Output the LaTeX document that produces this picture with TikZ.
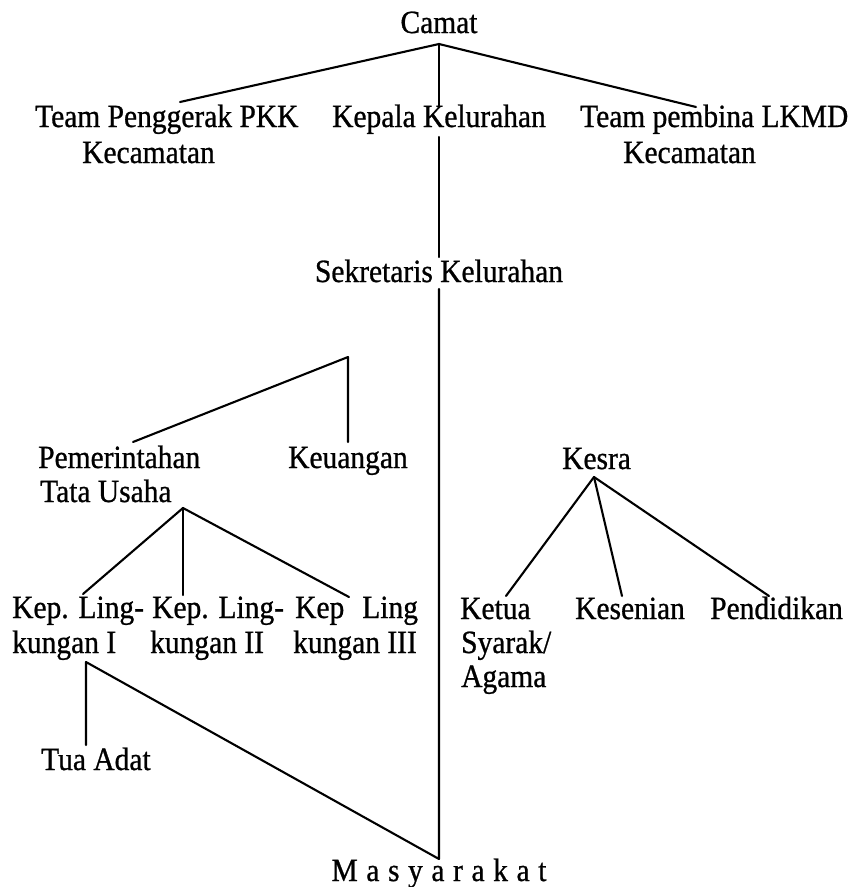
\documentclass[tikz,border=0pt]{standalone}
\usepackage{fontspec}
\setmainfont{Liberation Serif}[FakeStretch=0.91, FakeBold=0.8]
\begin{document}
\begin{tikzpicture}[x=1pt,y=-1pt,
  txt/.style={inner sep=0pt, font=\fontsize{32.4}{38}\selectfont},
  txtw/.style={txt, anchor=base west},
  txtc/.style={txt, anchor=base},
  conn/.style={line width=2.1pt, line cap=round, line join=round}]
\useasboundingbox (0,0) rectangle (853,887);
\fill[white] (0,0) rectangle (853,887);

% --- labels ---
\node[txtc] (camat)  at (439,33)  {Camat};
\node[txtw] (pkk)    at (35,127)  {Team Penggerak PKK};
\node[txtw] (pkk2)   at (82,163)  {Kecamatan};
\node[txtc] (kepala) at (439,127) {Kepala Kelurahan};
\node[txtw] (lkmd)   at (580,127) {Team pembina LKMD};
\node[txtw] (lkmd2)  at (623,163) {Kecamatan};
\node[txtc] (sekr)   at (439,282) {Sekretaris Kelurahan};
\node[txtw] (pem)    at (38,468)  {Pemerintahan};
\node[txtw] (pem2)   at (40,502)  {Tata Usaha};
\node[txtw] (keu)    at (288,468) {Keuangan};
\node[txtw] (kesra)  at (562,469) {Kesra};
\node[txtw] (ling1)  at (12,618)  {Kep. Ling-};
\node[txtw] (ling1b) at (12,653)  {kungan I};
\node[txtw] (ling2)  at (152,618) {Kep. Ling-};
\node[txtw] (ling2b) at (150,653) {kungan II};
\node[txtw] (ling3)  at (295,618) {Kep\hspace{18pt}Ling};
\node[txtw] (ling3b) at (293,653) {kungan III};
\node[txtw] (ketua)  at (460,619) {Ketua};
\node[txtw] (ketua2) at (461,653) {Syarak/};
\node[txtw] (ketua3) at (461,687) {Agama};
\node[txtw] (seni)   at (575,619) {Kesenian};
\node[txtw] (didik)  at (710,619) {Pendidikan};
\node[txtw] (tua)    at (41,770)  {Tua Adat};
\node[txtc] (masy)   at (439,881) {M\kern8.6pt a\kern8.6pt s\kern8.6pt y\kern8.6pt a\kern8.6pt r\kern8.6pt a\kern8.6pt k\kern8.6pt a\kern8.6pt t};

% --- connector points ---
\coordinate (cJ)    at (439,44);
\coordinate (pkkT)  at (180,102);
\coordinate (lkmdT) at (696,107);
\coordinate (kepT)  at (439,107);
\coordinate (kepB)  at (439,137);
\coordinate (sekT)  at (439,257);
\coordinate (sekB)  at (439,289);
\coordinate (masT)  at (439,859);
\coordinate (l1B)   at (86,662);
\coordinate (tuaT)  at (86,745);
\coordinate (pkJ)   at (348,357);
\coordinate (pemT)  at (133,442);
\coordinate (keuT)  at (348,442);
\coordinate (tuJ)   at (183,508);
\coordinate (l1T)   at (83,594);
\coordinate (l2T)   at (183,595);
\coordinate (l3T)   at (349,597);
\coordinate (ksJ)   at (594,477);
\coordinate (ktT)   at (506,596);
\coordinate (snT)   at (622,596);
\coordinate (pdT)   at (769,596);

% --- connectors ---
\draw[conn] (pkkT) -- (cJ) -- (lkmdT);
\draw[conn] (cJ) -- (kepT);
\draw[conn] (kepB) -- (sekT);
\draw[conn] (sekB) -- (masT) -- (l1B) -- (tuaT);
\draw[conn] (pemT) -- (pkJ) -- (keuT);
\draw[conn] (tuJ) -- (l1T);
\draw[conn] (tuJ) -- (l2T);
\draw[conn] (tuJ) -- (l3T);
\draw[conn] (ksJ) -- (ktT);
\draw[conn] (ksJ) -- (snT);
\draw[conn] (ksJ) -- (pdT);
\end{tikzpicture}
\end{document}
